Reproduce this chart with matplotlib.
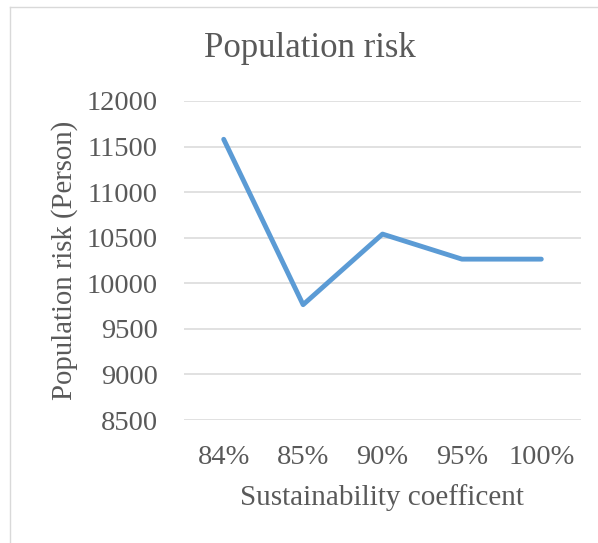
import matplotlib.pyplot as plt
from matplotlib.lines import Line2D

# 持续性系数与人口风险
categories = ['84%', '85%', '90%', '95%', '100%']
risk = [11580, 9765, 10540, 10265, 10265]
y_ticks = [8500, 9000, 9500, 10000, 10500, 11000, 11500, 12000]

plt.rcParams['font.family'] = ['Liberation Serif', 'DejaVu Serif']
text_color = '#595959'
W, H = 598, 543

fig = plt.figure(figsize=(W / 100, H / 100), dpi=100)
ax = fig.add_axes([184 / W, 1 - 420 / H, 397 / W, 319 / H])

x = list(range(len(categories)))
ax.plot(x, risk, color='#5B9BD5', linewidth=3.5, solid_joinstyle='round',
        solid_capstyle='round', zorder=3)

ax.set_xlim(-0.5, len(categories) - 0.5)
ax.set_ylim(8500, 12000)
ax.set_yticks(y_ticks)
ax.set_xticks(x)
ax.set_xticklabels(categories)
ax.grid(axis='y', color='#D9D9D9', linewidth=1.1)
ax.set_axisbelow(True)
for s in ax.spines.values():
    s.set_visible(False)
ax.tick_params(length=0, labelsize=20.5, colors=text_color)
ax.tick_params(axis='y', pad=19)
ax.tick_params(axis='x', pad=18)

ax.set_xlabel('Sustainability coefficent', fontsize=21, color=text_color)
ax.xaxis.set_label_coords((382 - 184) / 397, -(505 - 420) / 319)
ax.xaxis.label.set_va('baseline')
ax.set_ylabel('Population risk (Person)', fontsize=20.7, color=text_color)
ax.yaxis.set_label_coords((65 - 184) / 397, (420 - 260) / 319)
ax.yaxis.label.set_va('center')

fig.text(310 / W, 1 - 57 / H, 'Population risk', fontsize=25,
         color=text_color, ha='center', va='baseline')

# 图表区边框
fig.add_artist(Line2D([10 / W, 10 / W], [0, 1 - 7 / H],
                      transform=fig.transFigure, color='#D9D9D9', linewidth=1))
fig.add_artist(Line2D([10 / W, 1], [1 - 7 / H, 1 - 7 / H],
                      transform=fig.transFigure, color='#D9D9D9', linewidth=1))

fig.savefig('out.png', dpi=100)
